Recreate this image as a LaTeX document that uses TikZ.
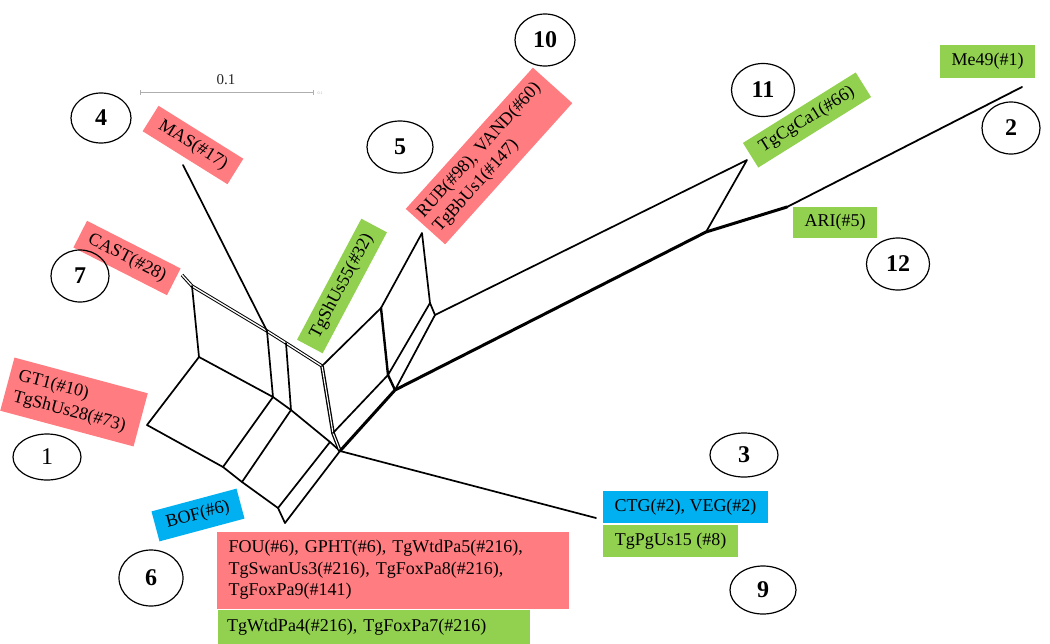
\documentclass[tikz,border=0pt]{standalone}
\usepackage{fontspec}
\setmainfont{Liberation Serif}
\usetikzlibrary{shapes.geometric}
\definecolor{lred}{RGB}{255,124,128}
\definecolor{lgreen}{RGB}{146,208,80}
\definecolor{lblue}{RGB}{0,176,240}
\definecolor{sbar}{RGB}{175,175,175}
\begin{document}
\begin{tikzpicture}[x=1pt,y=-1pt,
  lab/.style={inner sep=0pt, font=\fontsize{18}{21.5}\selectfont, text=black},
  num/.style={draw, ellipse, line width=1.2pt, inner sep=0pt, font=\fontsize{24}{26}\selectfont\bfseries},
  nedge/.style={line width=1.7pt, line join=round, line cap=round},
  dbl/.style={line width=1pt, double=white, double distance=1.3pt, line join=round},
  heavy/.style={line width=2.4pt, line join=round, line cap=round},
  main/.style={line width=3pt, line join=round, line cap=round}
]
\useasboundingbox (0,0) rectangle (1050,643);

% scale bar
\coordinate (sb1) at (140,92);
\coordinate (sb2) at (313,92);
\draw[sbar, line width=1pt] (sb1) -- (sb2);
\draw[sbar, line width=0.8pt] ([yshift=-2.5pt]sb1) -- ([yshift=2.5pt]sb1);
\draw[sbar, line width=0.8pt] ([yshift=-2.5pt]sb2) -- ([yshift=2.5pt]sb2);
\node[font=\fontsize{15}{17}\selectfont, text=black!85] (sbl) at (226,80) {0.1};
\node[font=\fontsize{4}{4}\selectfont, text=sbar, anchor=west] (sbs) at (314,93) {0.1};

% network coordinates
\coordinate (cast) at (182,275);
\coordinate (p2) at (192,286);
\coordinate (p3) at (267,331);
\coordinate (p4) at (286,343);
\coordinate (p5) at (322,366);
\coordinate (p6) at (199,357);
\coordinate (gt) at (147,425);
\coordinate (p8) at (273,397);
\coordinate (p9) at (291,410);
\coordinate (p11) at (223,467);
\coordinate (p12) at (242,482);
\coordinate (p13) at (278,508);
\coordinate (fou) at (285,523);
\coordinate (q1) at (330,442);
\coordinate (lm) at (333,433);
\coordinate (p10) at (340,451);
\coordinate (mas) at (183,165);
\coordinate (a) at (381,308);
\coordinate (rub) at (422,233);
\coordinate (c) at (430,303);
\coordinate (d) at (435,315);
\coordinate (e) at (388,375);
\coordinate (f) at (395,390);
\coordinate (g) at (706,232);
\coordinate (tgc) at (747,160);
\coordinate (ari) at (787,207);
\coordinate (me) at (1022,87);
\coordinate (ctg) at (596,518);

% left block
\draw[dbl] (cast) -- (p2) -- (p3) -- (p4) -- (p5);
\draw[nedge] (mas) -- (p3);
\draw[nedge] (p2) -- (p6) -- (gt) -- (p11) -- (p12) -- (p13) -- (fou);
\draw[nedge] (p6) -- (p8) -- (p9) -- (q1) -- (p10);
\draw[nedge] (p3) -- (p8);
\draw[nedge] (p4) -- (p9);
\draw[nedge] (p11) -- (p8);
\draw[nedge] (p12) -- (p9);
\draw[nedge] (p13) -- (q1);
\draw[nedge] (fou) -- (p10);
\draw[dbl, line width=1.3pt, double distance=1.1pt] (p5) -- (lm) -- (p10);
\draw[nedge] (p10) -- (ctg);

% right block
\draw[nedge] (p5) -- (a) -- (rub) -- (c) -- (d) -- (tgc) -- (g);
\draw[nedge] (lm) -- (e);
\draw[nedge] (c) -- (e);
\draw[nedge] (d) -- (f);
\draw[heavy] (a) -- (e) -- (f);
\draw[main] (p10) -- (f) -- (g) -- (ari);
\draw[line width=1.8pt, line cap=round] (ari) -- (me);

% labels
\node[lab, fill=lred, rotate=-32, minimum width=100pt, minimum height=30pt] (masl) at (193,145) {MAS(\#17)};
\node[lab, fill=lred, rotate=-27, minimum width=105pt, minimum height=30pt] (castl) at (127,258) {CAST(\#28)};
\node[lab, fill=lred, rotate=-15, minimum width=138pt, minimum height=55pt, text width=120pt, align=left] (gtl) at (74,402) {GT1(\#10)\\TgShUs28(\#73)};
\node[lab, fill=lgreen, rotate=62, minimum width=137pt, minimum height=29pt] (shl) at (342,286) {TgShUs55(\#32)};
\node[lab, fill=lred, rotate=48, minimum width=190pt, minimum height=53pt, text width=180pt, align=left] (rubl) at (489,156) {RUB(\#98), VAND(\#60)\\TgBbUs1(\#147)};
\node[lab, fill=lgreen, rotate=32, minimum width=133pt, minimum height=29pt] (tgcl) at (807,120) {TgCgCa1(\#66)};
\node[lab, fill=lgreen, minimum width=95pt, minimum height=33pt] (mel) at (987.5,61.5) {Me49(\#1)};
\node[lab, fill=lgreen, minimum width=84pt, minimum height=31pt] (aril) at (835,222.5) {ARI(\#5)};
\node[lab, fill=lblue, minimum width=165pt, minimum height=32pt] (ctgl) at (685.5,507) {CTG(\#2), VEG(\#2)};
\node[lab, fill=lgreen, minimum width=135pt, minimum height=32pt] (pgl) at (670.5,541) {TgPgUs15 (\#8)};
\node[lab, fill=lblue, rotate=15, minimum width=88pt, minimum height=31pt] (bofl) at (198,515) {BOF(\#6)};
\node[lab, fill=lred, minimum width=352pt, minimum height=77pt, text width=328pt, align=left] (foul) at (392.5,570) {FOU(\#6), GPHT(\#6), TgWtdPa5(\#216),\\TgSwanUs3(\#216), TgFoxPa8(\#216),\\TgFoxPa9(\#141)};
\node[lab, fill=lgreen, minimum width=312pt, minimum height=34pt, text width=294pt, align=left] (wtdl) at (374,627) {TgWtdPa4(\#216), TgFoxPa7(\#216)};

% numbered ellipses
\node[num, minimum width=60pt, minimum height=50pt] (n4) at (101,118) {4};
\node[num, minimum width=60pt, minimum height=52pt] (n10) at (545,40) {10};
\node[num, minimum width=66pt, minimum height=52pt] (n5) at (400,147) {5};
\node[num, minimum width=63pt, minimum height=53pt] (n11) at (763,90) {11};
\node[num, minimum width=58pt, minimum height=52pt] (n2) at (1011,128) {2};
\node[num, minimum width=63pt, minimum height=52pt] (n12) at (898,264) {12};
\node[num, minimum width=58pt, minimum height=52pt] (n7) at (80,276) {7};
\node[num, minimum width=68pt, minimum height=46pt, font=\fontsize{24}{26}\selectfont] (n1) at (47,457) {1};
\node[num, minimum width=68pt, minimum height=44pt] (n3) at (744,455) {3};
\node[num, minimum width=66pt, minimum height=48pt] (n9) at (763,590) {9};
\node[num, minimum width=64pt, minimum height=56pt] (n6) at (151,578) {6};
\end{tikzpicture}
\end{document}
